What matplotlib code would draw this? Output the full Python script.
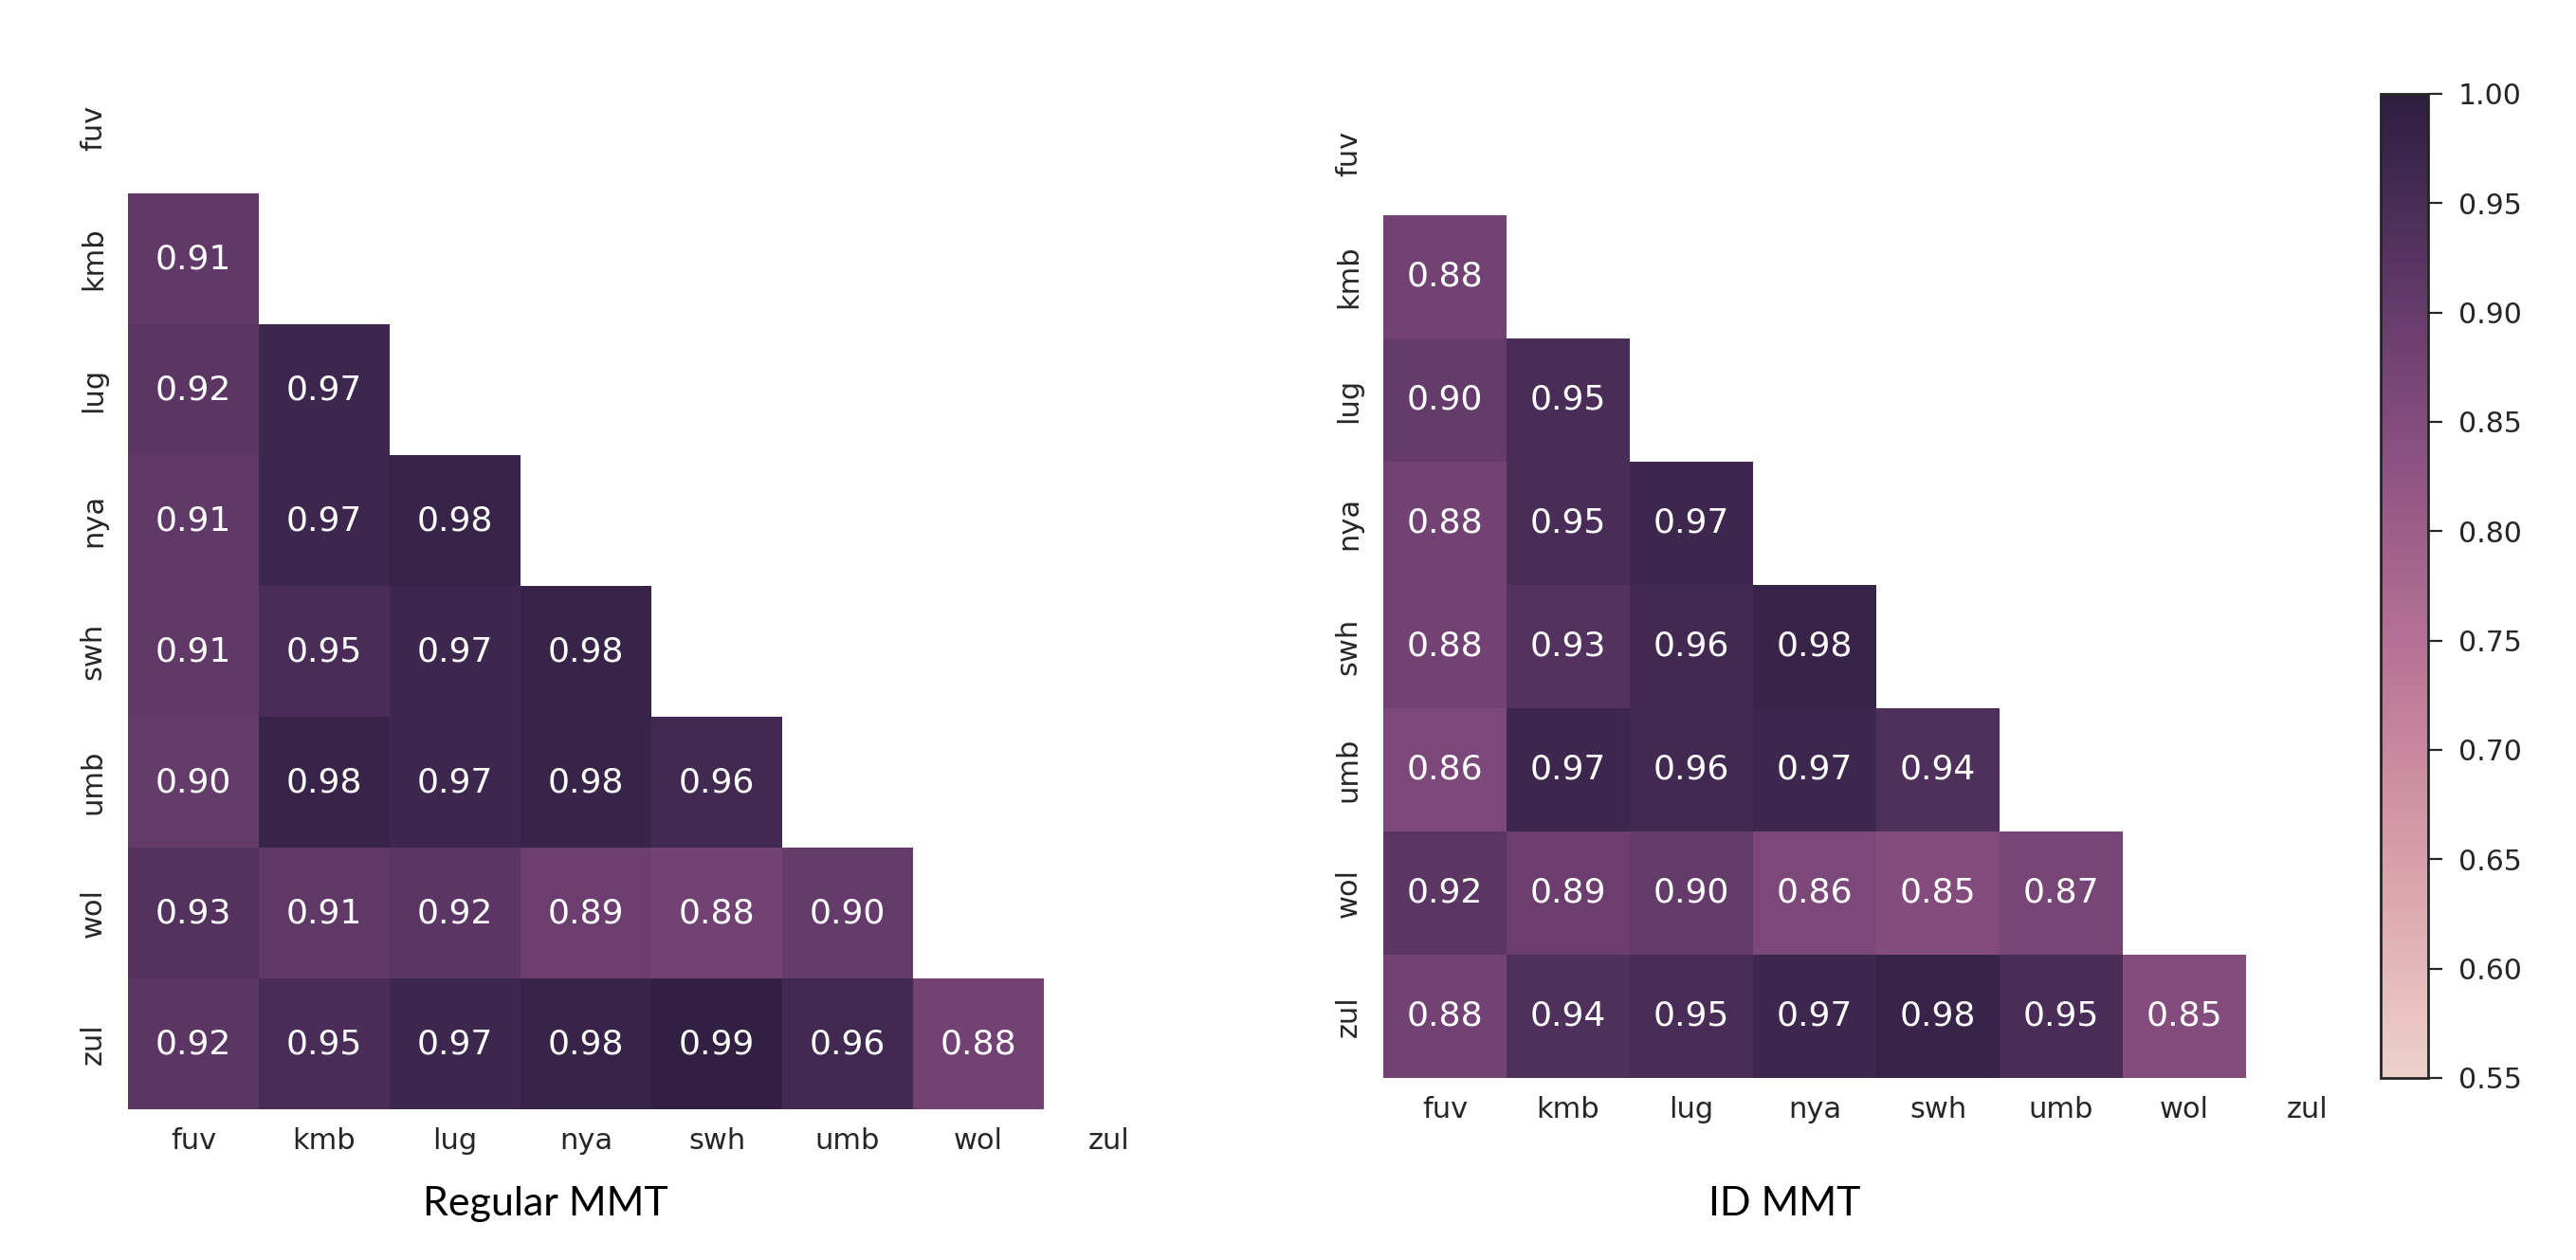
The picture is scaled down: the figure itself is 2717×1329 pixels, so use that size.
import matplotlib.pyplot as plt
import numpy as np
import seaborn as sns

idiomas = ['fuv', 'kmb', 'lug', 'nya', 'swh', 'umb', 'wol', 'zul']

# triangulo inferior, linhas kmb..zul, colunas fuv..wol
regular_mmt = [
    [0.91],
    [0.92, 0.97],
    [0.91, 0.97, 0.98],
    [0.91, 0.95, 0.97, 0.98],
    [0.90, 0.98, 0.97, 0.98, 0.96],
    [0.93, 0.91, 0.92, 0.89, 0.88, 0.90],
    [0.92, 0.95, 0.97, 0.98, 0.99, 0.96, 0.88],
]

id_mmt = [
    [0.88],
    [0.90, 0.95],
    [0.88, 0.95, 0.97],
    [0.88, 0.93, 0.96, 0.98],
    [0.86, 0.97, 0.96, 0.97, 0.94],
    [0.92, 0.89, 0.90, 0.86, 0.85, 0.87],
    [0.88, 0.94, 0.95, 0.97, 0.98, 0.95, 0.85],
]

titulos = ['Regular MMT', 'ID MMT']
cbar_ticks = [0.55, 0.60, 0.65, 0.70, 0.75, 0.80, 0.85, 0.90, 0.95, 1.00]


def monta_matriz(linhas):
    m = np.full((len(idiomas), len(idiomas)), np.nan)
    for i, linha in enumerate(linhas):
        m[i + 1, :len(linha)] = linha
    return m


cmap = sns.cubehelix_palette(as_cmap=True)
cor_texto = '#262626'

fig = plt.figure(figsize=(27.17, 13.29), dpi=100)
ax1 = fig.add_axes([135 / 2717, 1 - 1170 / 1329, 1104 / 2717, 1104 / 1329])
ax2 = fig.add_axes([1459 / 2717, 1 - 1137 / 1329, 1040 / 2717, 1040 / 1329])
cax = fig.add_axes([2511 / 2717, 1 - 1137 / 1329, 50 / 2717, 1038 / 1329])

for ax, dados, com_cbar in [(ax1, regular_mmt, False), (ax2, id_mmt, True)]:
    m = monta_matriz(dados)
    sns.heatmap(m, mask=np.isnan(m), cmap=cmap, vmin=0.55, vmax=1.0,
                annot=True, fmt='.2f', annot_kws={'size': 26},
                xticklabels=idiomas, yticklabels=idiomas,
                ax=ax, cbar=com_cbar, cbar_ax=cax if com_cbar else None,
                cbar_kws={'ticks': cbar_ticks} if com_cbar else None)
    ax.set_yticklabels(idiomas, rotation=90, va='center')
    ax.set_xticklabels(idiomas, rotation=0)
    ax.tick_params(axis='both', length=0, labelsize=22, colors=cor_texto)
    ax.tick_params(axis='x', pad=14)
    ax.tick_params(axis='y', pad=16)

cbar = ax2.collections[0].colorbar
cbar.outline.set_linewidth(2)
cbar.outline.set_edgecolor(cor_texto)
cbar.ax.yaxis.set_major_formatter(plt.FormatStrFormatter('%.2f'))
cbar.ax.tick_params(length=11, width=1.6, pad=12, labelsize=21.5,
                    colors=cor_texto)

fig.text(575 / 2717, 1 - 1270 / 1329, titulos[0], ha='center', va='center',
         fontsize=31, family='Lato', color='black')
fig.text(1882 / 2717, 1 - 1270 / 1329, titulos[1], ha='center', va='center',
         fontsize=31, family='Lato', color='black')

fig.savefig('out.png', dpi=100)
